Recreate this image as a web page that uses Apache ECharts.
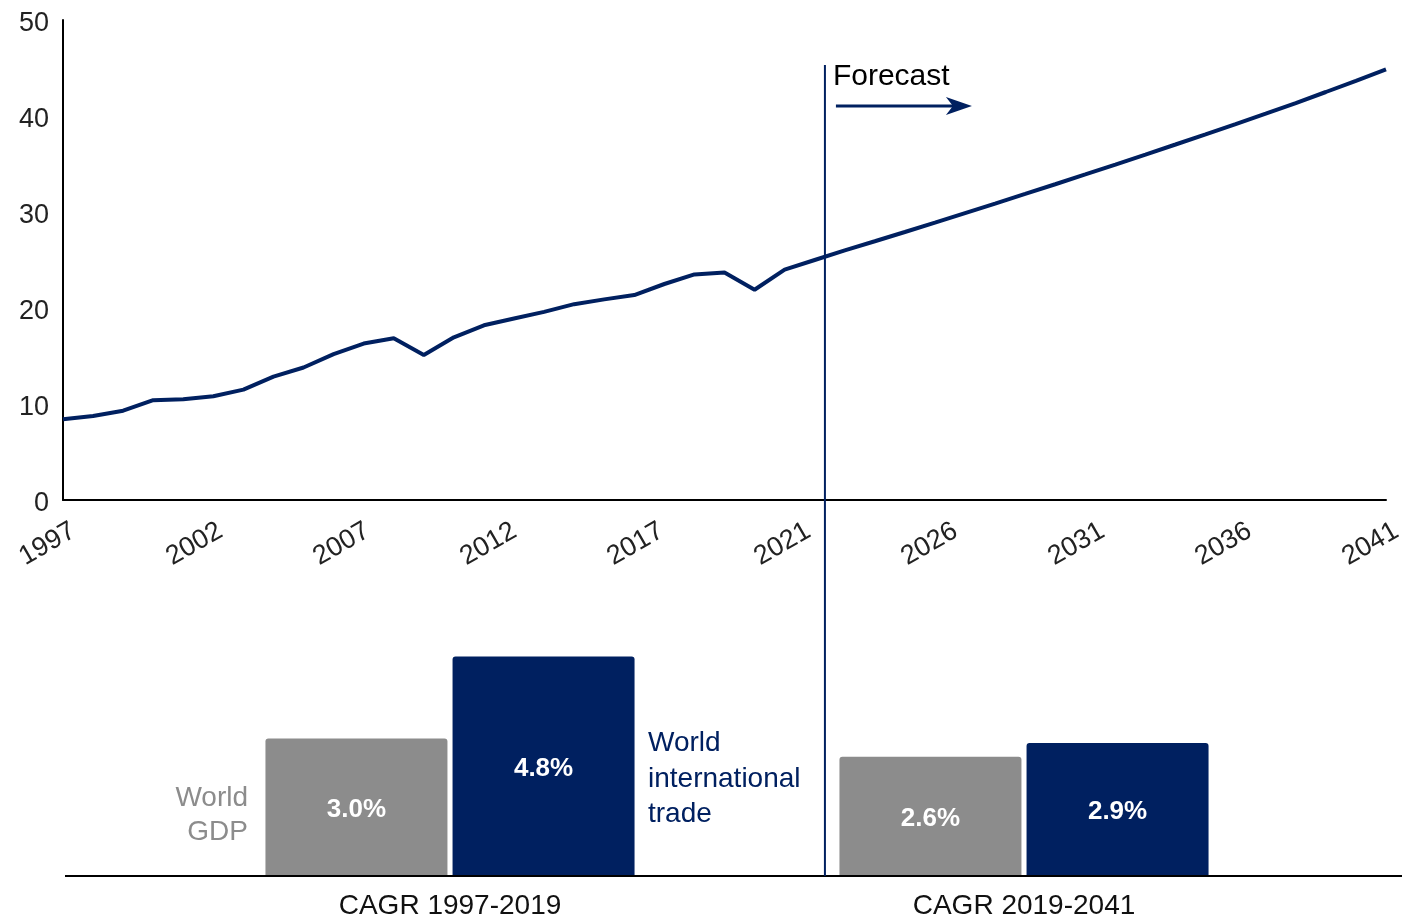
<!DOCTYPE html>
<html>
<head>
<meta charset="utf-8">
<script src="https://cdn.jsdelivr.net/npm/echarts@6/dist/echarts.min.js"></script>
<style>
html,body{margin:0;padding:0;background:#fff;}
#chart{width:1402px;height:919px;}
</style>
</head>
<body>
<div id="chart"></div>
<script>
// ---- data ----
const years = [1997,1998,1999,2000,2001,2002,2003,2004,2005,2006,2007,2008,2009,2010,2011,2012,2013,2014,2015,2016,2017,2018,2019,2020,2021,
               2022,2023,2024,2025,2026,2027,2028,2029,2030,2031,2032,2033,2034,2035,2036,2037,2038,2039,2040,2041];
const tradeValues = [8.4,8.75,9.3,10.4,10.5,10.8,11.5,12.85,13.8,15.2,16.3,16.85,15.1,16.95,18.2,18.9,19.6,20.4,20.9,21.35,22.5,23.5,23.7,21.9,24.0,
                     25.0,26.0,26.95,27.92,28.9,29.89,30.88,31.88,32.89,33.91,34.94,35.98,37.03,38.09,39.16,40.24,41.35,42.5,43.67,44.85];
const yTicks = [0,10,20,30,40,50];
const forecastStartYear = 2022.34;

const cagrCategories = ['CAGR 1997-2019','CAGR 2019-2041'];
const gdpCagr = [3.0, 2.6];
const tradeCagr = [4.8, 2.9];

// ---- styles ----
const NAVY = '#002060';
const GREY = '#8c8c8c';
const FONT = 'Liberation Sans, Arial, sans-serif';

const chart = echarts.init(document.getElementById('chart'));
const lineData = years.map((y, i) => [y, tradeValues[i]]);

chart.setOption({
  animation: false,
  textStyle: { fontFamily: FONT },
  grid: [
    { left: 63, right: 16, top: 20, height: 480, containLabel: false, outerBoundsMode: 'none' },
    { left: 163, width: 1148, top: 647.5, height: 227.5, containLabel: false, outerBoundsMode: 'none' }
  ],
  xAxis: [
    {
      gridIndex: 0, type: 'value',
      min: years[0], max: years[years.length - 1],
      interval: (years[years.length - 1] - years[0]) / 9,
      axisLine: { show: true, lineStyle: { color: '#000', width: 2 } },
      axisTick: { show: false },
      splitLine: { show: false },
      axisLabel: {
        rotate: 30, margin: 35, fontSize: 27, color: '#222', fontFamily: FONT,
        align: 'center', verticalAlign: 'middle', padding: [0, 36, 0, 0],
        showMinLabel: true, showMaxLabel: true, hideOverlap: false,
        formatter: v => String(Math.round(v))
      }
    },
    {
      gridIndex: 1, type: 'category', data: cagrCategories,
      axisLine: { show: false }, axisTick: { show: false },
      axisLabel: { fontSize: 28, color: '#111', margin: 17, fontFamily: FONT }
    }
  ],
  yAxis: [
    {
      gridIndex: 0, type: 'value', min: yTicks[0], max: yTicks[yTicks.length - 1], interval: 10,
      axisLine: { show: true, lineStyle: { color: '#000', width: 2 } },
      axisTick: { show: false }, splitLine: { show: false },
      axisLabel: {
        margin: 14, formatter: v => '{n|' + v + '}',
        rich: { n: { fontSize: 27, color: '#222', fontFamily: FONT, padding: [7, 0, 0, 0] } }
      }
    },
    {
      gridIndex: 1, type: 'value', min: 0, max: 5, show: false
    }
  ],
  series: [
    {
      type: 'line', xAxisIndex: 0, yAxisIndex: 0, data: lineData,
      showSymbol: false, symbol: 'none',
      lineStyle: { color: NAVY, width: 4 }
    },
    {
      type: 'bar', xAxisIndex: 1, yAxisIndex: 1, data: gdpCagr,
      barWidth: 182, barGap: '2.8%',
      itemStyle: { color: GREY, borderRadius: [3, 3, 0, 0] },
      label: { show: true, position: 'inside', offset: [0, 3], color: '#fff', fontWeight: 'bold', fontSize: 26,
               fontFamily: FONT, formatter: p => p.value.toFixed(1) + '%' }
    },
    {
      type: 'bar', xAxisIndex: 1, yAxisIndex: 1, data: tradeCagr,
      barWidth: 182,
      itemStyle: { color: NAVY, borderRadius: [3, 3, 0, 0] },
      label: { show: true, position: 'inside', offset: [0, 3], color: '#fff', fontWeight: 'bold', fontSize: 26,
               fontFamily: FONT, formatter: p => p.value.toFixed(1) + '%' }
    }
  ]
});

// annotations positioned through the axes
const fx = chart.convertToPixel({ xAxisIndex: 0 }, forecastStartYear);
chart.setOption({
  graphic: [
    { type: 'line', shape: { x1: fx, y1: 65, x2: fx, y2: 876 }, style: { stroke: NAVY, lineWidth: 2 }, z: 10 },
    { type: 'line', shape: { x1: 65, y1: 876, x2: 1402, y2: 876 }, style: { stroke: '#000', lineWidth: 2 }, z: 9 },
    { type: 'text', left: fx + 8, top: 62, style: { text: 'Forecast', fontSize: 30, fill: '#000', fontFamily: FONT }, z: 10 },
    { type: 'line', shape: { x1: fx + 11, y1: 106, x2: fx + 135, y2: 106 }, style: { stroke: NAVY, lineWidth: 3 }, z: 10 },
    { type: 'polygon', shape: { points: [[fx + 147, 106], [fx + 121, 97], [fx + 128, 106], [fx + 121, 115]] }, style: { fill: NAVY }, z: 10 },
    { type: 'text', x: 248, y: 781, style: { text: 'World\nGDP', fontSize: 28, lineHeight: 34, fill: GREY, align: 'right', fontFamily: FONT }, z: 10 },
    { type: 'text', x: 648, y: 726, style: { text: 'World\ninternational\ntrade', fontSize: 28, lineHeight: 35.5, fill: NAVY, align: 'left', fontFamily: FONT }, z: 10 }
  ]
});
</script>
</body>
</html>
